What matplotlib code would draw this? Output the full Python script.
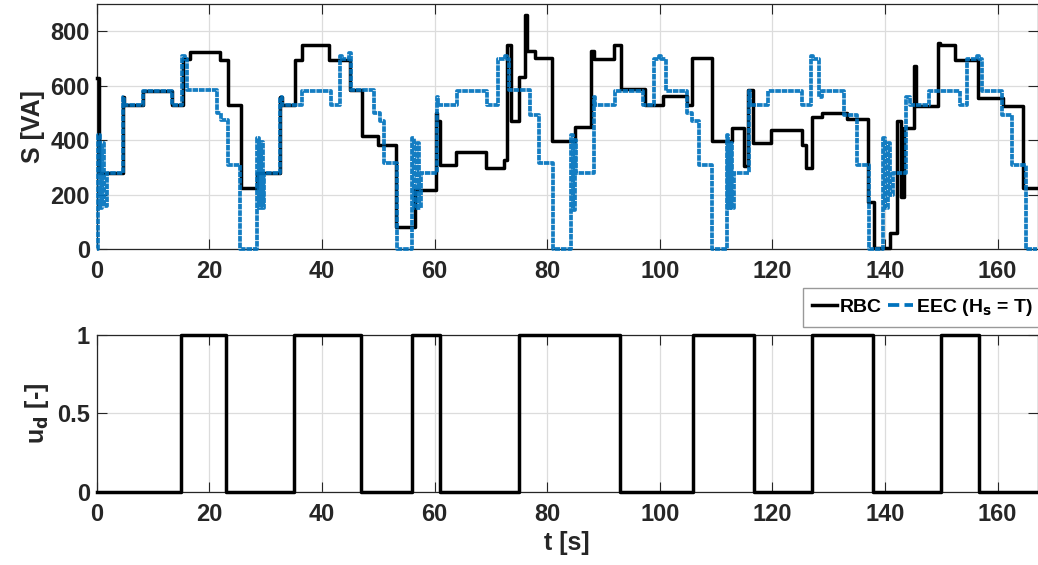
import matplotlib
matplotlib.use("Agg")
import matplotlib.pyplot as plt
from matplotlib.lines import Line2D
import numpy as np

plt.rcParams['font.family'] = ['Liberation Sans', 'DejaVu Sans']
plt.rcParams['font.weight'] = 'bold'

# ---- data (step series: breakpoints in s, value held until next breakpoint) ----
eec_t = [0.0, 0.15, 0.5, 0.9, 1.3, 1.8, 4.6, 4.9, 8.3, 13.3, 15.2, 15.6, 16.1, 21.3, 22.0, 23.3,
         25.5, 28.4, 28.8, 29.2, 29.5, 29.8, 32.6, 33.0, 36.4, 41.7, 43.3, 43.6, 44.8, 45.1,
         49.2, 50.3, 51.1, 53.4, 56.0, 56.4, 56.9, 57.3, 57.6, 60.4, 60.7, 64.0, 69.4, 71.2,
         72.6, 72.9, 73.3, 76.9, 78.6, 81.0, 84.2, 84.6, 84.9, 85.2, 88.3, 88.5, 92.1, 97.1,
         98.9, 99.8, 100.3, 101.2, 104.8, 105.7, 106.9, 109.3, 111.9, 112.2, 112.6, 112.9,
         113.2, 115.8, 116.1, 119.3, 125.3, 126.9, 127.3, 128.3, 128.8, 132.7, 135.0, 137.1,
         139.6, 140.0, 140.5, 140.9, 141.4, 143.8, 144.4, 147.9, 153.3, 154.5, 156.3, 156.7,
         157.2, 160.8, 162.6, 165.0, 167.0]
eec_s = [0, 420, 150, 390, 160, 280, 560, 530, 580, 530, 710, 700, 585, 500, 475, 310,
         0, 410, 150, 395, 150, 280, 560, 530, 580, 530, 710, 700, 720, 585,
         500, 470, 316, 0, 410, 150, 390, 150, 280, 560, 530, 580, 530, 700,
         710, 700, 585, 494, 316, 0, 420, 144, 400, 280, 560, 530, 580, 530,
         700, 710, 700, 580, 500, 469, 310, 0, 420, 150, 390, 150,
         280, 580, 530, 580, 530, 710, 700, 560, 580, 494, 310, 0,
         410, 150, 390, 200, 280, 560, 530, 580, 530, 700, 710, 700,
         580, 494, 310, 0, 0]

rbc_t = [0.0, 0.4, 4.6, 4.9, 8.3, 13.3, 15.4, 16.6, 21.9, 23.4, 25.7, 28.4, 32.6, 33.0, 35.3,
         36.4, 41.2, 45.0, 47.2, 49.9, 53.2, 56.6, 60.2, 60.5, 61.0, 63.8, 69.2, 72.4, 72.8,
         73.5, 75.0, 76.0, 76.4, 77.8, 80.9, 84.9, 87.8, 88.3, 91.8, 93.2, 97.3, 100.6, 104.8,
         105.8, 109.3, 112.8, 115.0, 115.7, 116.6, 119.7, 125.2, 126.0, 127.1, 128.8, 133.2,
         137.0, 138.0, 140.9, 142.2, 142.8, 143.3, 145.2, 145.6, 149.4, 149.8, 152.5, 156.5,
         160.9, 164.6, 167.0]
rbc_s = [630, 280, 560, 530, 580, 530, 700, 725, 695, 530, 225, 280, 560, 530, 695,
         750, 695, 585, 414, 383, 83, 218, 500, 470, 310, 356, 298, 328, 750,
         469, 633, 861, 726, 702, 396, 447, 726, 698, 750, 588, 530, 561, 530,
         702, 396, 445, 304, 586, 390, 438, 383, 298, 487, 500, 479,
         175, 5, 59, 469, 193, 445, 671, 524, 757, 751, 695, 555,
         525, 224, 224]

ud_t = [0, 15.0, 23.0, 35.0, 47.0, 56.0, 61.0, 75.0, 93.0, 106.0, 116.7, 127.0, 137.8, 150.0, 156.7, 167.0]
ud_v = [0, 1, 0, 1, 0, 1, 0, 1, 0, 1, 0, 1, 0, 1, 0, 0]

xticks = [0, 20, 40, 60, 80, 100, 120, 140, 160]
s_ticks = [0, 200, 400, 600, 800]
ud_ticks = [0, 0.5, 1]

# ---- figure ----
W, H = 1038, 565
fig = plt.figure(figsize=(W / 100, H / 100), dpi=100)

def frac(l, r, t, b):
    return [l / W, 1 - b / H, (r - l) / W, (b - t) / H]

ax1 = fig.add_axes(frac(96.7, 1037.5, 4, 249.3))
ax2 = fig.add_axes(frac(96.7, 1037.5, 334.5, 491.7))

dark = '#262626'
gridc = '#dcdcdc'
blue = '#0072BD'

for ax in (ax1, ax2):
    ax.set_xlim(0, 167.1)
    ax.set_xticks(xticks)
    ax.grid(True, color=gridc, linewidth=0.9)
    ax.set_axisbelow(True)
    ax.tick_params(direction='in', length=7, width=0.8, colors=dark, labelsize=17,
                   top=True, right=True)
    ax.tick_params(axis='x', pad=8)
    ax.tick_params(axis='y', pad=5)
    for sp in ax.spines.values():
        sp.set_color(dark)
        sp.set_linewidth(0.9)

ax1.plot(rbc_t, rbc_s, drawstyle='steps-post', color='black', lw=2.5,
         clip_on=False, zorder=3)
ax1.plot(eec_t, eec_s, drawstyle='steps-post', color=blue, lw=2.7,
         linestyle=(0, (1.5, 0.22)), clip_on=False, zorder=4, alpha=0.92)
ax1.set_ylim(0, 900)
ax1.set_yticks(s_ticks)
ax1.set_xticklabels([str(v) for v in xticks], fontweight='bold')
ax1.set_yticklabels([str(v) for v in s_ticks], fontweight='bold')
ax1.set_ylabel('S [VA]', fontsize=18, fontweight='bold', color=dark, labelpad=4)

ax2.plot(ud_t, ud_v, drawstyle='steps-post', color='black', lw=2.5, clip_on=False, zorder=3)
ax2.set_ylim(0, 1)
ax2.set_yticks(ud_ticks)
ax2.set_xticklabels([str(v) for v in xticks], fontweight='bold')
ax2.set_yticklabels(['0', '0.5', '1'], fontweight='bold')
ax2.set_ylabel('u$_{\\mathbf{d}}$ [-]', fontsize=18, fontweight='bold', color=dark, labelpad=4)
ax2.set_xlabel('t [s]', fontsize=18, fontweight='bold', color=dark, labelpad=4)

h1 = Line2D([], [], color='black', lw=2.5)
h2 = Line2D([], [], color=blue, lw=2.7, linestyle=(0, (3.0, 1.4)))
leg = fig.legend(handles=[h1, h2], labels=['RBC', 'EEC (H$_{\\mathbf{s}}$ = T)'],
                 loc='upper left',
                 bbox_to_anchor=(803 / W, 1 - 288 / H), ncol=2, frameon=True,
                 fancybox=False, edgecolor='#808080',
                 prop={'weight': 'bold', 'size': 14}, handlelength=1.3,
                 handletextpad=0.15, columnspacing=0.3, borderpad=0.45,
                 borderaxespad=0)
leg.get_frame().set_linewidth(1.0)

fig.savefig('out.png', dpi=100)
